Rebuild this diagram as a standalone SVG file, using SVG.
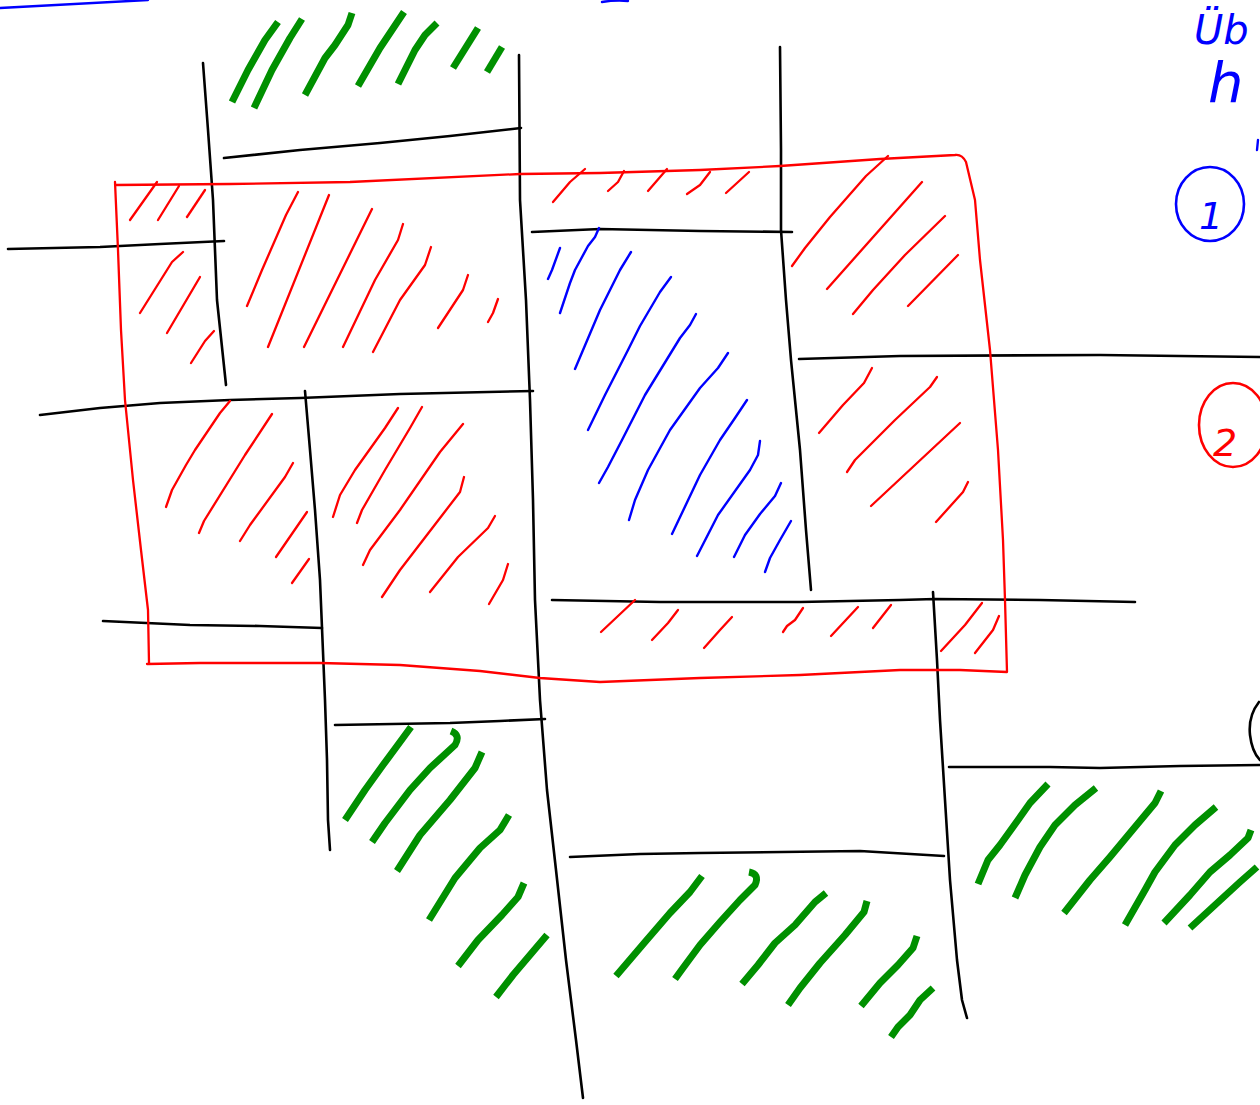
<svg xmlns="http://www.w3.org/2000/svg" width="1260" height="1105" viewBox="0 0 1260 1105">
<style>
.k{fill:none;stroke:#000;stroke-width:2.6;stroke-linecap:round;stroke-linejoin:round}
.r{fill:none;stroke:#ff0000;stroke-width:2.3;stroke-linecap:round;stroke-linejoin:round}
.b{fill:none;stroke:#0000ff;stroke-width:2.4;stroke-linecap:round;stroke-linejoin:round}
.g{fill:none;stroke:#009000;stroke-width:7;stroke-linecap:butt;stroke-linejoin:round}
.hand{font-family:"DejaVu Sans",sans-serif;font-style:italic}
</style>
<rect width="1260" height="1105" fill="#fff"/>
<g id="lines">
<polyline class="k" points="203,63 208,130 213,200 217,300 226,385"/>
<polyline class="k" points="519,55 520,200 526,300 530,400 533,500 535,600 540,700 547,790 556,870 566,960 576,1040 583,1098"/>
<polyline class="k" points="780,47 781,150 781,230 786,300 791,360 800,450 806,530 811,590"/>
<polyline class="k" points="305,391 310,450 315,510 320,580 322,628 325,700 327,760 328,820 330,850"/>
<polyline class="k" points="933,592 937,660 940,720 945,800 950,880 957,960 962,1000 967,1018"/>
<polyline class="k" points="224,158 300,150 380,143 450,136 521,128"/>
<polyline class="k" points="8,249 100,247 160,244 224,241"/>
<polyline class="k" points="40,415 100,408 160,403 230,400 300,398 400,394 533,391"/>
<polyline class="k" points="103,621 190,625 260,626 322,628"/>
<polyline class="k" points="532,232 600,229 700,231 792,232"/>
<polyline class="k" points="799,359 900,356 1100,355 1260,357"/>
<polyline class="k" points="552,600 660,602 800,602 900,600 935,599 1040,600 1135,602"/>
<polyline class="k" points="335,725 450,723 500,721 545,719"/>
<polyline class="k" points="570,857 640,854 700,853 860,851 944,856"/>
<polyline class="k" points="949,767 1050,767 1100,768 1180,766 1260,765"/>
<path class="k" d="M1259,702 Q1248,716 1250,735 Q1252,752 1260,760"/>
</g>
<g id="zone-2-outline">
<path class="r" d="M115,182 L118,250 L121,330 L125,400 L133,480 L141,550 L148,610 L149,663 M147,664 L200,663 L320,663 L400,665 L480,671 L540,678 L600,682 L700,678 L800,675 L900,670 L960,670 L1007,672 L1005,600 L1003,540 L998,450 L990,350 L980,260 L975,200 L966,162 Q962,154 955,155 L880,159 L780,166 L700,170 L600,173 L520,174 L350,182 L230,184 L115,185"/>
</g>
<g id="hatch-red">
<line class="r" x1="157" y1="182" x2="130" y2="220"/>
<line class="r" x1="179" y1="186" x2="158" y2="220"/>
<line class="r" x1="205" y1="190" x2="187" y2="217"/>
<polyline class="r" points="183,252 172,262 140,313"/>
<line class="r" x1="200" y1="277" x2="167" y2="333"/>
<polyline class="r" points="214,331 205,341 191,363"/>
<polyline class="r" points="298,192 286,215 262,270 247,306"/>
<line class="r" x1="329" y1="195" x2="268" y2="347"/>
<line class="r" x1="372" y1="209" x2="304" y2="347"/>
<polyline class="r" points="403,224 398,240 375,280 343,347"/>
<polyline class="r" points="431,247 425,265 400,300 373,352"/>
<polyline class="r" points="468,275 463,290 438,328"/>
<polyline class="r" points="498,299 493,313 488,322"/>
<polyline class="r" points="585,169 570,182 553,202"/>
<polyline class="r" points="624,171 618,182 608,191"/>
<line class="r" x1="667" y1="169" x2="648" y2="191"/>
<polyline class="r" points="710,172 700,185 687,194"/>
<line class="r" x1="749" y1="172" x2="726" y2="193"/>
<polyline class="r" points="888,156 866,176 830,217 805,248 792,266"/>
<line class="r" x1="922" y1="182" x2="827" y2="289"/>
<polyline class="r" points="945,216 905,255 873,290 853,314"/>
<line class="r" x1="958" y1="255" x2="908" y2="306"/>
<polyline class="r" points="872,368 864,383 843,405 819,433"/>
<polyline class="r" points="937,377 930,387 895,420 855,460 847,472"/>
<line class="r" x1="960" y1="423" x2="871" y2="506"/>
<polyline class="r" points="968,482 963,492 936,522"/>
<polyline class="r" points="230,401 220,413 195,450 186,465 172,490 166,507"/>
<polyline class="r" points="272,414 245,455 204,521 199,533"/>
<polyline class="r" points="293,463 285,477 250,525 240,541"/>
<line class="r" x1="307" y1="512" x2="276" y2="557"/>
<line class="r" x1="309" y1="559" x2="292" y2="583"/>
<polyline class="r" points="398,408 385,428 355,470 340,495 333,517"/>
<polyline class="r" points="422,407 410,428 385,470 362,510 357,523"/>
<polyline class="r" points="463,424 440,452 400,510 370,550 363,565"/>
<polyline class="r" points="464,477 460,492 440,518 400,570 382,597"/>
<polyline class="r" points="495,516 488,528 458,557 430,592"/>
<polyline class="r" points="508,564 503,580 489,604"/>
<line class="r" x1="635" y1="600" x2="601" y2="632"/>
<polyline class="r" points="678,610 668,623 652,640"/>
<polyline class="r" points="732,617 720,630 704,648"/>
<polyline class="r" points="803,608 795,620 787,626 783,632"/>
<line class="r" x1="858" y1="607" x2="831" y2="636"/>
<line class="r" x1="891" y1="605" x2="873" y2="628"/>
<polyline class="r" points="982,603 965,625 941,651"/>
<polyline class="r" points="999,616 993,630 975,653"/>
</g>
<g id="hatch-blue">
<polyline class="b" points="560,248 552,270 548,279"/>
<polyline class="b" points="599,228 595,237 588,246 575,270 570,283 560,313"/>
<polyline class="b" points="631,252 620,270 600,310 575,369"/>
<polyline class="b" points="671,277 660,292 640,326 628,350 605,395 588,430"/>
<polyline class="b" points="696,314 690,325 680,338 645,395 622,440 608,467 599,483"/>
<polyline class="b" points="728,353 718,368 700,388 670,430 648,470 635,500 629,520"/>
<polyline class="b" points="747,400 735,418 720,440 700,475 672,534"/>
<polyline class="b" points="760,441 758,455 750,470 718,515 697,556"/>
<polyline class="b" points="781,483 775,496 760,514 745,535 734,557"/>
<polyline class="b" points="791,521 780,540 770,558 765,572"/>
</g>
<g id="hatch-green">
<polyline class="g" points="278,22 265,40 248,70 232,102"/>
<polyline class="g" points="302,19 290,38 272,70 254,108"/>
<polyline class="g" points="352,13 348,25 335,45 325,58 305,95"/>
<polyline class="g" points="404,12 380,48 358,86"/>
<polyline class="g" points="437,23 425,35 415,50 398,84"/>
<line class="g" x1="478" y1="28" x2="453" y2="68"/>
<line class="g" x1="502" y1="47" x2="487" y2="72"/>
<polyline class="g" points="411,727 400,742 383,765 365,790 345,820"/>
<path class="g" d="M451,731 Q461,735 455,745 L430,768 L410,790 L385,823 L372,842"/>
<polyline class="g" points="482,752 475,768 450,800 420,835 397,871"/>
<polyline class="g" points="509,815 500,830 480,848 455,878 429,920"/>
<polyline class="g" points="524,883 518,897 502,915 478,940 458,966"/>
<polyline class="g" points="547,935 530,955 513,975 496,997"/>
<polyline class="g" points="702,876 690,892 670,913 645,942 616,976"/>
<path class="g" d="M749,872 Q760,874 755,885 L740,900 L720,922 L700,945 L683,968 L675,979"/>
<polyline class="g" points="826,893 815,902 795,925 775,943 758,965 742,984"/>
<polyline class="g" points="867,901 864,912 845,935 820,963 800,988 788,1005"/>
<polyline class="g" points="917,936 913,948 898,965 880,983 861,1006"/>
<polyline class="g" points="933,988 920,1000 910,1015 898,1027 891,1037"/>
<polyline class="g" points="1048,784 1030,803 1018,820 1000,845 988,860 978,884"/>
<polyline class="g" points="1096,788 1075,805 1055,825 1040,847 1025,875 1015,898"/>
<polyline class="g" points="1161,791 1155,803 1130,833 1110,857 1090,880 1064,913"/>
<polyline class="g" points="1216,807 1195,825 1175,845 1155,872 1145,890 1125,925"/>
<polyline class="g" points="1251,830 1248,838 1230,855 1210,872 1190,895 1164,923"/>
<polyline class="g" points="1257,867 1240,882 1215,905 1190,928"/>
</g>
<g id="top-marks">
<path class="b" d="M0,8 Q70,4 148,0"/>
<path class="b" d="M602,2 Q615,0 628,1"/>
</g>
<g id="labels">
<text class="hand" x="1194" y="44" font-size="40" fill="#0000ff">Üb</text>
<text class="hand" x="1208" y="102" font-size="56" fill="#0000ff">h</text>
<path class="b" d="M1258,140 L1257,150"/>
<ellipse cx="1210" cy="204" rx="34" ry="37" fill="none" stroke="#0000ff" stroke-width="2.6"/>
<text class="hand" x="1199" y="229" font-size="38" fill="#0000ff">1</text>
<ellipse cx="1233" cy="425" rx="34" ry="42" fill="none" stroke="#ff0000" stroke-width="2.6"/>
<text class="hand" x="1213" y="456" font-size="38" fill="#ff0000">2</text>
</g>
</svg>
